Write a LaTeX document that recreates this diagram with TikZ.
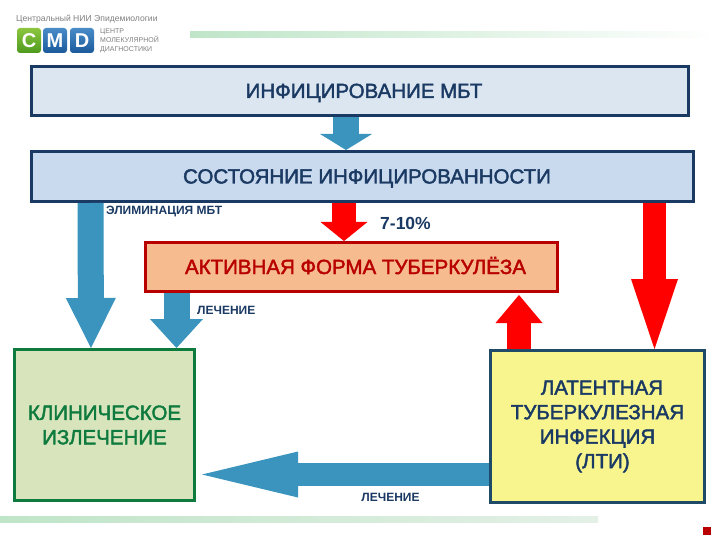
\documentclass[tikz,border=0pt]{standalone}
\usepackage{fontspec}
\setmainfont{Liberation Sans}
\newfontfamily\headfont[FakeBold=2]{Liberation Sans}
\usepackage{xcolor}
\usetikzlibrary{arrows.meta,positioning,calc}
\definecolor{navy}{HTML}{1B3A63}
\definecolor{paleblue}{HTML}{DCE6F1}
\definecolor{midblue}{HTML}{C9DAEF}
\definecolor{deepred}{HTML}{B80000}
\definecolor{peach}{HTML}{F6BC90}
\definecolor{deepgreen}{HTML}{0E7A3E}
\definecolor{palegreen}{HTML}{D7E4BC}
\definecolor{paleyellow}{HTML}{F8F58F}
\definecolor{tealnavy}{HTML}{1F4A68}
\definecolor{flowblue}{HTML}{3A94BE}
\definecolor{barstart}{HTML}{BFE5C8}
\definecolor{barend}{HTML}{E4F0E6}
\definecolor{logogreen}{HTML}{4E9A1E}
\definecolor{logolime}{HTML}{8CC63F}
\definecolor{logoblue}{HTML}{1A5A9C}
\definecolor{logosky}{HTML}{4A8CC8}
\begin{document}
\begin{tikzpicture}[
  x=1pt,y=-1pt,
  box/.style={draw,line width=3pt,inner sep=0pt,align=center,font=\headfont\fontsize{20.5}{24.5}\selectfont},
  headbox/.style={box,text height=14pt,text depth=0pt},
  flow/.style={draw=flowblue,line width=26pt},
  hot/.style={draw=red,line width=23.5pt},
  small/.style={navy,inner sep=0pt,font=\bfseries\fontsize{12}{13}\selectfont},
  logotile/.style={rounded corners=3pt,minimum width=24pt,minimum height=25pt,inner sep=0pt,text=white,font=\bfseries\fontsize{20}{20}\selectfont},
  logotext/.style={gray,inner sep=0pt,anchor=west,text height=6pt,text depth=0pt,font=\fontsize{7}{8}\selectfont}
]
\useasboundingbox (0,0) rectangle (720,540);
\fill[white] (0,0) rectangle (720,540);
\node[inner sep=0pt,minimum width=530pt,minimum height=6pt,left color=barstart,right color=white] (topbar) at (455,35) {};
\node[inner sep=0pt,minimum width=598pt,minimum height=6pt,left color=barstart,right color=barend] (lowbar) at (299,519) {};
\node[fill=deepred,inner sep=0pt,minimum size=8pt] (mark) at (707,531) {};
\node[logotext,font=\fontsize{8.6}{9}\selectfont] (caption) at (16,19) {Центральный НИИ Эпидемиологии};
\node[logotile,top color=logolime,bottom color=logogreen] (tilec) at (29,40.5) {C};
\node[logotile,top color=logosky,bottom color=logoblue] (tilem) at (55,40.5) {M};
\node[logotile,top color=logosky,bottom color=logoblue] (tiled) at (82,40.5) {D};
\node[logotext] (centre) at (100,31) {ЦЕНТР};
\node[logotext] (molec) at (100,40) {МОЛЕКУЛЯРНОЙ};
\node[logotext] (diag) at (100,49) {ДИАГНОСТИКИ};
\node[headbox,draw=navy,fill=paleblue,text=navy,minimum width=657pt,minimum height=49pt] (infect) at (360,91) {\hspace*{8pt}ИНФИЦИРОВАНИЕ МБТ};
\node[headbox,draw=navy,fill=midblue,text=navy,minimum width=662pt,minimum height=50pt] (state) at (362.5,176.5) {\hspace*{9pt}СОСТОЯНИЕ ИНФИЦИРОВАННОСТИ};
\node[headbox,draw=deepred,fill=peach,text=deepred,minimum width=412pt,minimum height=49pt] (active) at (351.5,267) {\hspace*{8pt}АКТИВНАЯ ФОРМА ТУБЕРКУЛЁЗА};
\node[box,draw=deepgreen,fill=palegreen,text=deepgreen,minimum width=180pt,minimum height=151pt] (cured) at (104.5,425) {КЛИНИЧЕСКОЕ\\ИЗЛЕЧЕНИЕ};
\node[box,draw=tealnavy,fill=paleyellow,text=navy,minimum width=214pt,minimum height=152pt] (latent) at (597.5,426.5) {\hspace*{9pt}ЛАТЕНТНАЯ\\ТУБЕРКУЛЕЗНАЯ\\ИНФЕКЦИЯ\\\hspace*{10pt}(ЛТИ)};
\draw[flow,-{Triangle[length=16pt,width=52pt,line width=0pt]}] ([xshift=-14pt]infect.south) -- ([xshift=-16.5pt]state.north);
\draw[flow,-{Triangle[length=50pt,width=50pt,line width=0pt]}] ([xshift=-272pt]state.south) -- ([xshift=-13.5pt]cured.north);
\draw[flow,-{Triangle[length=29pt,width=53pt,line width=0pt]}] ([xshift=-175pt]active.south) -- ([xshift=72pt]cured.north);
\draw[flow,line width=23pt,-{Triangle[length=96pt,width=46pt,line width=0pt]}] ([yshift=-48pt]latent.west) -- ([yshift=-49.5pt,xshift=6pt]cured.east);
\draw[hot,-{Triangle[length=19pt,width=47pt,line width=0pt]}] ([xshift=-18.5pt]state.south) -- ([xshift=-7.5pt]active.north);
\draw[hot,-{Triangle[length=70pt,width=47pt,line width=0pt]}] ([xshift=292pt]state.south) -- ([xshift=57pt]latent.north);
\draw[hot,-{Triangle[length=28pt,width=47pt,line width=0pt]}] ([xshift=-78.5pt]latent.north) -- ([xshift=167.5pt,yshift=-2pt]active.south);
\node[small,anchor=west] (elim) at (106,212) {ЭЛИМИНАЦИЯ МБТ};
\node[small,anchor=west] (cure1) at (197,310) {ЛЕЧЕНИЕ};
\node[small] (cure2) at (390.5,497) {ЛЕЧЕНИЕ};
\node[navy,inner sep=0pt,anchor=west,font=\bfseries\fontsize{17.5}{18}\selectfont] (rate) at (380,223) {7-10\%};
\end{tikzpicture}
\end{document}
